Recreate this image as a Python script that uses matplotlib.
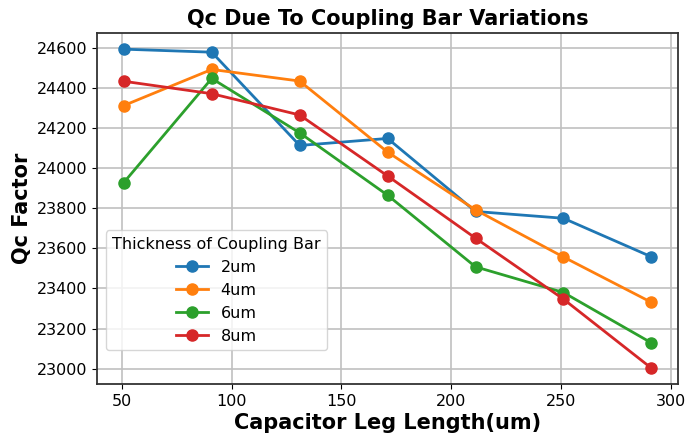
import matplotlib
matplotlib.use("Agg")
import matplotlib.pyplot as plt

leg_length = [51, 91, 131, 171, 211, 251, 291]
qc_2um = [24593, 24578, 24113, 24148, 23784, 23750, 23558]
qc_4um = [24312, 24492, 24434, 24080, 23792, 23557, 23331]
qc_6um = [23928, 24447, 24176, 23865, 23508, 23380, 23129]
qc_8um = [24433, 24371, 24265, 23961, 23651, 23347, 23003]
series_labels = ["2um", "4um", "6um", "8um"]
series_values = [qc_2um, qc_4um, qc_6um, qc_8um]
colors = ["#1f77b4", "#ff7f0e", "#2ca02c", "#d62728"]

fig = plt.figure(figsize=(6.86, 4.43), dpi=100)
ax = fig.add_axes([0.142, 0.133, 0.846, 0.792])

for lab, vals, c in zip(series_labels, series_values, colors):
    ax.plot(leg_length, vals, marker="o", color=c, linewidth=2, markersize=8, label=lab)

ax.grid(True, color="#c0c0c0", linewidth=1.2)
ax.set_axisbelow(True)
ax.tick_params(labelsize=11.5)
for s in ax.spines.values():
    s.set_linewidth(1.3)
    s.set_color("#333333")

ax.set_title("Qc Due To Coupling Bar Variations", fontsize=15, fontweight="bold")
ax.set_xlabel("Capacitor Leg Length(um)", fontsize=15, fontweight="bold", labelpad=3)
ax.set_ylabel("Qc Factor", fontsize=15, fontweight="bold")
ax.legend(title="Thickness of Coupling Bar", fontsize=11.5, title_fontsize=11.5,
          loc="lower left", bbox_to_anchor=(0.014, 0.097), borderaxespad=0)

fig.savefig("out.png", dpi=100)
